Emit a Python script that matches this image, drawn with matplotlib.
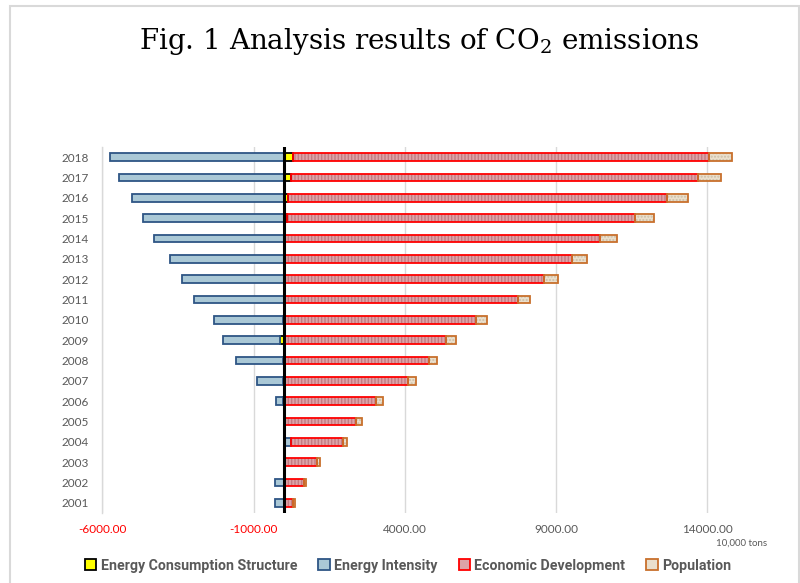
import numpy as np
import matplotlib.pyplot as plt
from matplotlib.patches import Rectangle, Patch

years = list(range(2001, 2019))

# 10,000 tons
energy_structure = [0, 0, 10, 0, 0, -20, -30, -40, -130, -40,
                    10, 40, 30, 30, 110, 145, 220, 310]
energy_intensity = [-288, -300, 30, 220, -10, -245, -853, -1560, -1876, -2266,
                    -2968, -3354, -3773, -4292, -4657, -5031, -5462, -5760]
economic_dev = [309, 673, 1063, 1721, 2394, 3045, 4115, 4800, 5362, 6355,
                7713, 8566, 9480, 10427, 11486, 12523, 13482, 13735]
population = [44, 66, 99, 154, 188, 232, 254, 275, 321, 354,
              397, 441, 496, 562, 629, 683, 740, 751]

series_names = ['Energy Consumption Structure', 'Energy Intensity',
                'Economic Development', 'Population']
x_ticks = [-6000, -1000, 4000, 9000, 14000]

plt.rcParams['font.family'] = ['Lato', 'DejaVu Sans']
plt.rcParams['hatch.linewidth'] = 1.0

fig = plt.figure(figsize=(8, 5.83), dpi=100)
ax = fig.add_axes([0.128, 0.12, 0.832, 0.628])

# style: face, edge, hatch, hatch colour
styles = [
    ('#FFFF00', '#000000', None, None),
    ('#AAC8D6', '#2E5585', None, None),
    ('#DDA3A7', '#FF0000', '|||||', '#C27C82'),
    ('#EADFCC', '#C8702C', '.....', '#CDBFA8'),
]

ypos = np.arange(len(years))
pos_cum = np.zeros(len(years))
neg_cum = np.zeros(len(years))
h = 0.37
for vals, (fc, ec, hatch, hc) in zip(
        [energy_structure, energy_intensity, economic_dev, population], styles):
    vals = np.array(vals, dtype=float)
    left = np.where(vals >= 0, pos_cum, neg_cum)
    if hatch:
        ax.barh(ypos, vals, left=left, height=h, color=fc, edgecolor=hc,
                linewidth=0, hatch=hatch, zorder=3)
        ax.barh(ypos, vals, left=left, height=h, fill=False, edgecolor=ec,
                linewidth=1.3, zorder=4)
    else:
        ax.barh(ypos, vals, left=left, height=h, color=fc, edgecolor=ec,
                linewidth=1.3, zorder=4)
    pos_cum = pos_cum + np.where(vals >= 0, vals, 0)
    neg_cum = neg_cum + np.where(vals < 0, vals, 0)

ax.axvline(0, color='black', linewidth=2.2, zorder=6)

ax.set_xlim(-6000, 16000)
ax.set_ylim(-0.5, len(years) - 0.5)
ax.set_xticks(x_ticks)
ax.set_xticklabels(['%.2f' % t for t in x_ticks])
for lab, t in zip(ax.get_xticklabels(), x_ticks):
    lab.set_color('#FF0000' if t < 0 else '#595959')
ax.set_yticks(ypos)
ax.set_yticklabels([str(y) for y in years], color='#595959')
ax.tick_params(axis='x', length=0, labelsize=8.5, pad=8)
ax.tick_params(axis='y', length=0, labelsize=8.5, pad=10)
ax.grid(axis='x', color='#D9D9D9', linewidth=1, zorder=0)
for s in ['top', 'right', 'bottom']:
    ax.spines[s].set_visible(False)
ax.spines['left'].set_color('#D9D9D9')
ax.spines['left'].set_linewidth(1)

fig.text(0.959, 0.068, '10,000 tons', ha='right', va='center',
         fontsize=7, color='#595959')

fig.text(0.524, 0.928, r'Fig. 1 Analysis results of CO$\mathregular{_2}$ emissions',
         ha='center', va='center', fontsize=20, family='DejaVu Serif',
         color='black')

handles = [Patch(facecolor=fc, edgecolor=ec, linewidth=1.3)
           for fc, ec, _, _ in styles]
leg = fig.legend(handles, series_names, loc='center', ncol=4,
                 bbox_to_anchor=(0.51, 0.03), frameon=False,
                 handlelength=0.8, handleheight=0.8, handletextpad=0.3,
                 columnspacing=1.5,
                 prop={'family': 'Roboto', 'weight': 'bold', 'size': 10.2})
for t in leg.get_texts():
    t.set_color('#595959')

fig.patches.append(Rectangle((10 / 800, -0.05), 789 / 800, 1.04,
                             transform=fig.transFigure, fill=False,
                             edgecolor='#D9D9D9', linewidth=1.5))

fig.savefig('out.png', dpi=100)
